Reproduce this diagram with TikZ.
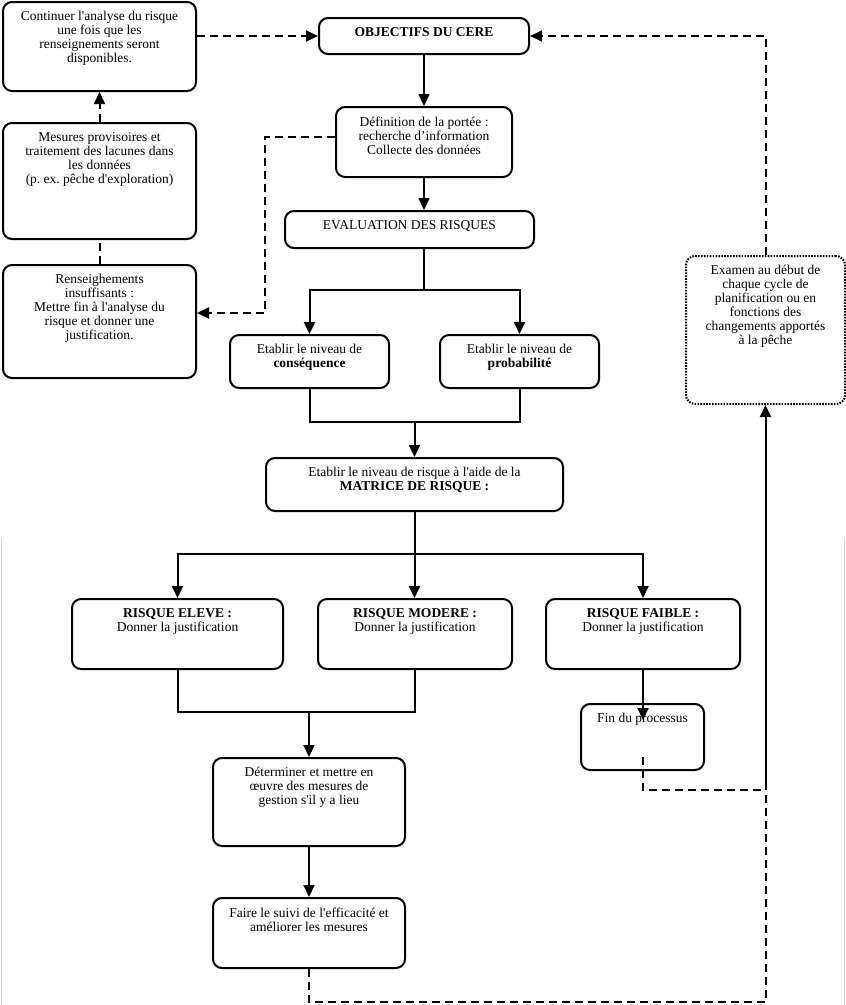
\documentclass[tikz,border=0pt]{standalone}
\usepackage{fontspec}
\setmainfont{Liberation Serif}[Ligatures=TeXOff]
\usetikzlibrary{arrows.meta,calc}
\frenchspacing
\newcommand{\bxt}[3]{\parbox[c][#2][t]{#1}{\centering\vspace*{9.5pt}#3\par}}
\begin{document}
\begin{tikzpicture}[x=1pt,y=-1pt,
  font=\fontsize{13.5}{14}\selectfont,
  box/.style={draw, line width=2pt, rounded corners=9pt, inner sep=0pt, anchor=north west},
  dotbox/.style={box, line width=2pt, dash pattern=on 1.6pt off 1.3pt},
  conn/.style={line width=2pt},
  arr/.style={conn, -{Triangle[length=12pt,width=11pt]}},
  dsh/.style={conn, dash pattern=on 8pt off 5pt},
  darr/.style={dsh, -{Triangle[length=12pt,width=11pt]}},
  edge line/.style={gray!35, line width=0.6pt}]
\useasboundingbox (0,0) rectangle (846,1005);

% boxes
\node[box] (A) at (2,1) {\bxt{193pt}{89pt}{Continuer l'analyse du risque\\ une fois que les\\ renseignements seront\\ disponibles.}};
\node[box] (MES) at (2,122) {\bxt{193pt}{116pt}{Mesures provisoires et\\ traitement des lacunes dans\\ les données\\ (p. ex. pêche d'exploration)}};
\node[box] (REN) at (2,264) {\bxt{193pt}{113pt}{Renseighements\\ insuffisants :\\ Mettre fin à l'analyse du\\ risque et donner une\\ justification.}};
\node[box] (OBJ) at (318,17) {\bxt{210pt}{36pt}{\textbf{OBJECTIFS DU CERE}}};
\node[box] (DEF) at (335,106) {\bxt{176pt}{70pt}{Définition de la portée :\\ recherche d’information\\ Collecte des données}};
\node[box] (EVAL) at (284,210) {\bxt{249pt}{37pt}{EVALUATION DES RISQUES}};
\node[box] (CONS) at (229,334) {\bxt{159pt}{53pt}{Etablir le niveau de\\ \textbf{conséquence}}};
\node[box] (PROB) at (439,334) {\bxt{159pt}{53pt}{Etablir le niveau de\\ \textbf{probabilité}}};
\node[box] (MAT) at (265,457) {\bxt{297pt}{53pt}{Etablir le niveau de risque à l'aide de la\\ \textbf{MATRICE DE RISQUE :}}};
\node[box] (ELEVE) at (71,598) {\bxt{211pt}{70pt}{\textbf{RISQUE ELEVE :}\\ Donner la justification}};
\node[box] (MOD) at (317,598) {\bxt{194pt}{70pt}{\textbf{RISQUE MODERE :}\\ Donner la justification}};
\node[box] (FAIB) at (545,598) {\bxt{194pt}{70pt}{\textbf{RISQUE FAIBLE :}\\ Donner la justification}};
\node[box] (FIN) at (580,703) {\bxt{123pt}{66pt}{Fin du processus}};
\node[box] (DET) at (212,757) {\bxt{192pt}{88pt}{Déterminer et mettre en\\ œuvre des mesures de\\ gestion s'il y a lieu}};
\node[box] (FAIRE) at (212,897) {\bxt{192pt}{70pt}{Faire le suivi de l'efficacité et\\ améliorer les mesures}};
\node[dotbox] (EXAM) at (685,255) {\bxt{159pt}{148pt}{Examen au début de\\ chaque cycle de\\ planification ou en\\ fonctions des\\ changements apportés\\ à la pêche}};

% helper levels
\coordinate (y137) at (0,137);
\coordinate (y290) at (0,290);
\coordinate (y313) at (0,313);
\coordinate (y422) at (0,422);
\coordinate (y554) at (0,554);
\coordinate (y712) at (0,712);
\coordinate (y790) at (0,790);
\coordinate (y1002) at (0,1002);
\coordinate (x265) at (265,0);

% dashed connectors (left loop)
\draw[darr] (A.east |- OBJ.west) -- (OBJ.west);
\draw[darr] (DEF.west |- y137) -- (x265 |- y137) -- (x265 |- y313) -- (REN.east |- y313);
\draw[dsh] (REN.north) -- (MES.south);
\draw[darr] (MES.north) -- (A.south);

% dashed connector (right loop)
\draw[darr] (EXAM.north) -- (EXAM.north |- OBJ.east) -- (OBJ.east);

% main solid flow
\draw[arr] (OBJ.south) -- (DEF.north);
\draw[arr] (DEF.south) -- (DEF.south |- EVAL.north);
\coordinate (b1) at (DEF.south |- y290);
\draw[conn] (DEF.south |- EVAL.south) -- (b1);
\draw[arr] (b1) -| (CONS.north);
\draw[arr] (b1) -| (PROB.north);
\coordinate (b2) at (MAT.north |- y422);
\draw[conn] (CONS.south) |- (b2) -| (PROB.south);
\draw[arr] (b2) -- (MAT.north);
\coordinate (b3) at (MAT.south |- y554);
\draw[conn] (MAT.south) -- (b3);
\draw[arr] (b3) -| (ELEVE.north);
\draw[arr] (b3) -| (FAIB.north);
\draw[arr] (b3) -- (b3 |- MOD.north);
\coordinate (b4) at (DET.north |- y712);
\draw[conn] (ELEVE.south) |- (MOD.south |- y712) -- (MOD.south);
\draw[arr] (b4) -- (DET.north);
\draw[arr] (DET.south) -- (FAIRE.north);
\coordinate (finend) at ([yshift=-17pt]FIN.north);
\draw[arr] (FAIB.south) -- (FAIB.south |- finend);

% feedback to review box
\coordinate (J) at (EXAM.south |- y790);
\coordinate (finstart) at ([yshift=-54pt]FIN.north);
\draw[dsh] (finstart) |- (J);
\draw[dsh] (FAIRE.south) -- (FAIRE.south |- y1002) -- (J |- y1002) -- (J);
\draw[arr] (J) -- (EXAM.south);

% faint page edges
\draw[edge line] (1,538) -- (1,1005);
\draw[edge line] (844,538) -- (844,1005);
\end{tikzpicture}
\end{document}
